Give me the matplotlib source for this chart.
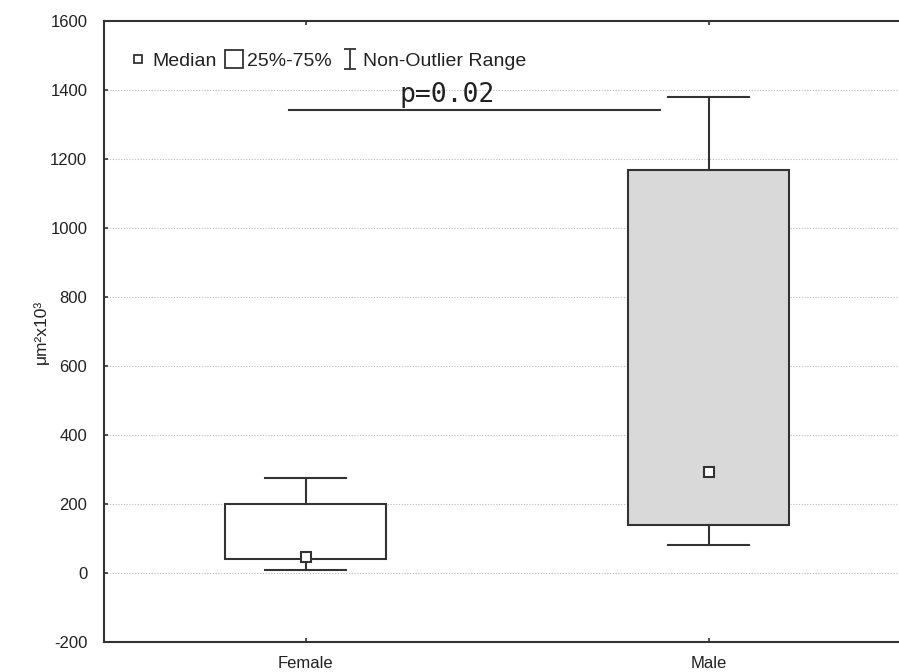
import matplotlib
matplotlib.use('Agg')
import matplotlib.pyplot as plt
from matplotlib.lines import Line2D
from matplotlib.path import Path

plt.rcParams['font.family'] = ['Liberation Sans', 'DejaVu Sans']
plt.rcParams['axes.unicode_minus'] = False

groups = ['Female', 'Male']
medians = [47, 292]
q1 = [40, 139]
q3 = [200, 1167]
whisker_low = [9, 81]
whisker_high = [275, 1379]
box_colors = ['white', '#d9d9d9']

sig_x = [0.96, 1.88]
sig_y = 1342
sig_text = 'p=0.02'

fig = plt.figure(figsize=(8.99, 6.72), dpi=100)
ax = fig.add_axes([0.1157, 0.0446, 0.897, 0.924])

stats = []
for i, g in enumerate(groups):
    stats.append({'label': g, 'med': medians[i], 'q1': q1[i], 'q3': q3[i],
                  'whislo': whisker_low[i], 'whishi': whisker_high[i], 'fliers': []})

ink = '#333333'
bp = ax.bxp(stats, positions=[1, 2], widths=0.4, patch_artist=True, showfliers=False,
            boxprops=dict(edgecolor=ink, linewidth=1.5),
            whiskerprops=dict(color=ink, linewidth=1.5),
            capprops=dict(color=ink, linewidth=1.5),
            medianprops=dict(visible=False), capwidths=0.2)
for patch, c in zip(bp['boxes'], box_colors):
    patch.set_facecolor(c)

ax.plot([1, 2], medians, ls='none', marker='s', markersize=7, mfc='white', mec=ink, mew=1.5, zorder=5)

# significance bar
ax.plot(sig_x, [sig_y, sig_y], color=ink, lw=1.5)
ax.text(1.351, 1365, sig_text, family='DejaVu Sans Mono', fontsize=19,
        ha='center', va='baseline', color='#222222')

ax.set_xlim(0.5, 2.5)
ax.set_ylim(-200, 1600)
ax.set_yticks(range(-200, 1601, 200))
ax.set_xticks([1, 2])
ax.set_xticklabels(groups)
ax.yaxis.grid(True, linestyle=(0, (1, 1.5)), color='#bbbbbb', linewidth=0.8)
ax.set_axisbelow(True)
ax.tick_params(direction='in', length=3, width=1.2, color=ink, labelsize=12, labelcolor='#222222')
ax.tick_params(axis='y', pad=12)
ax.tick_params(axis='x', top=True, pad=10)
for s in ax.spines.values():
    s.set_color(ink)
    s.set_linewidth(1.5)
ax.set_ylabel('μm²x10³', fontsize=12.5, color='#222222', labelpad=1)

# legend
ibeam = Path([(-0.6, 1), (0.6, 1), (0, 1), (0, -1), (-0.6, -1), (0.6, -1)],
             [Path.MOVETO, Path.LINETO, Path.MOVETO, Path.LINETO, Path.MOVETO, Path.LINETO])
handles = [
    Line2D([], [], ls='none', marker='s', markersize=6, mfc='white', mec=ink, mew=1.3),
    Line2D([], [], ls='none', marker='s', markersize=13, mfc='white', mec=ink, mew=1.3),
    Line2D([], [], ls='none', marker=ibeam, markersize=14, mec=ink, mew=1.3),
]
ax.legend(handles, ['Median', '25%-75%', 'Non-Outlier Range'], ncol=3, loc='upper left',
          bbox_to_anchor=(0.0305, 0.950), borderaxespad=0, borderpad=0, frameon=False,
          fontsize=14, handlelength=1.0, handletextpad=0.2, columnspacing=0.4,
          labelcolor='#222222')

fig.savefig('out.png', dpi=100)
